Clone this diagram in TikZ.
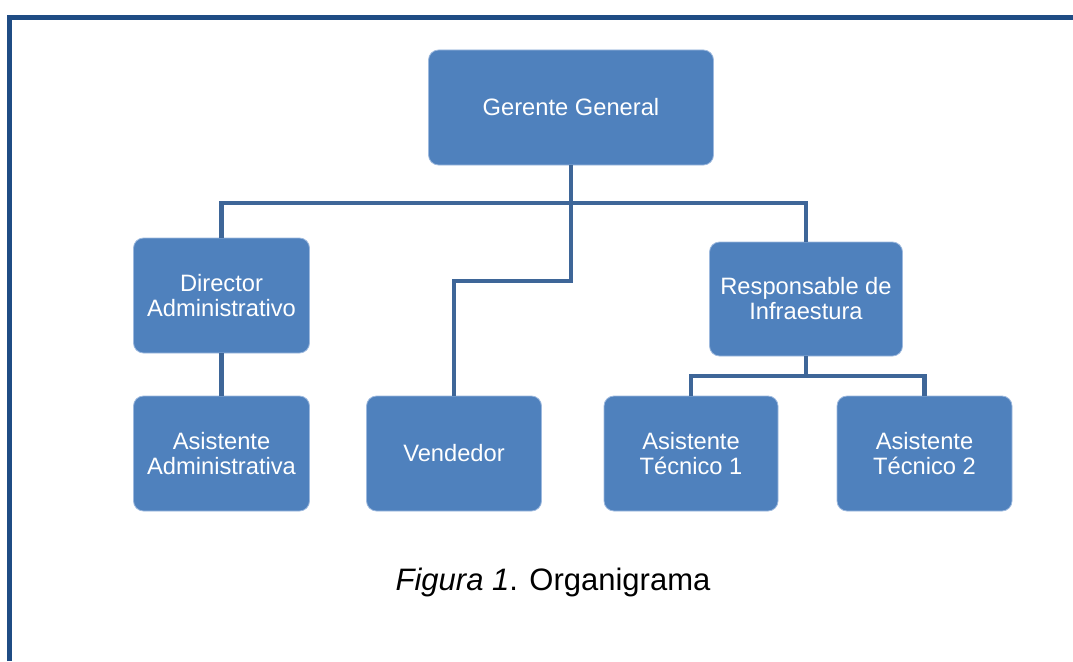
\documentclass[tikz,border=0pt]{standalone}
\usepackage{fontspec}
\setmainfont{Liberation Sans}
\definecolor{boxfill}{HTML}{4F81BD}
\definecolor{boxedge}{HTML}{9DB9DE}
\definecolor{conn}{HTML}{3E6698}
\definecolor{frame}{HTML}{1F4C84}
\begin{document}
\begin{tikzpicture}[x=1pt,y=-1pt,
  orgbox/.style={rectangle, rounded corners=10pt, fill=boxfill, draw=boxedge, line width=0.8pt,
    text=white, align=center, inner sep=0pt, minimum height=115pt,
    font=\fontsize{23.7}{25}\selectfont},
  link/.style={draw=conn, line width=4.6pt},
  framel/.style={draw=frame, line width=5.5pt}]
\useasboundingbox (0,0) rectangle (1073,661);
% frame
\draw[framel] (9.5,661) -- (9.5,17.5) -- (1073,17.5);
% nodes
\node[orgbox, minimum width=285pt] (gg) at (571,107.5) {Gerente General};
\node[orgbox, minimum width=176pt] (dir) at (221.5,295.5) {Director\\Administrativo};
\node[orgbox, minimum width=193pt, minimum height=114pt] (resp) at (806,299) {Responsable de\\Infraestura};
\node[orgbox, minimum width=176pt] (asa) at (221.5,453.5) {Asistente\\Administrativa};
\node[orgbox, minimum width=175pt] (ven) at (454,453.5) {Vendedor};
\node[orgbox, minimum width=174pt] (at1) at (691,453.5) {Asistente\\Técnico 1};
\node[orgbox, minimum width=175pt] (at2) at (924.5,453.5) {Asistente\\Técnico 2};
% coordinates
\coordinate (hb) at (571,203);
\coordinate (j) at (571,281);
\coordinate (k) at (806,376);
% connectors
\draw[link] (dir.north) |- (hb) -| (resp.north);
\draw[link] (gg.south) -- (j) -| (ven.north);
\draw[link] (dir.south) -- (asa.north);
\draw[link, line width=4.2pt] (resp.south) -- (k);
\draw[link, line width=4.2pt] (at1.north) |- (k) -| (at2.north);
% caption
\node[font=\fontsize{31}{36}\selectfont] (cap) at (553,582) {\textit{Figura 1}. Organigrama};
\end{tikzpicture}
\end{document}
